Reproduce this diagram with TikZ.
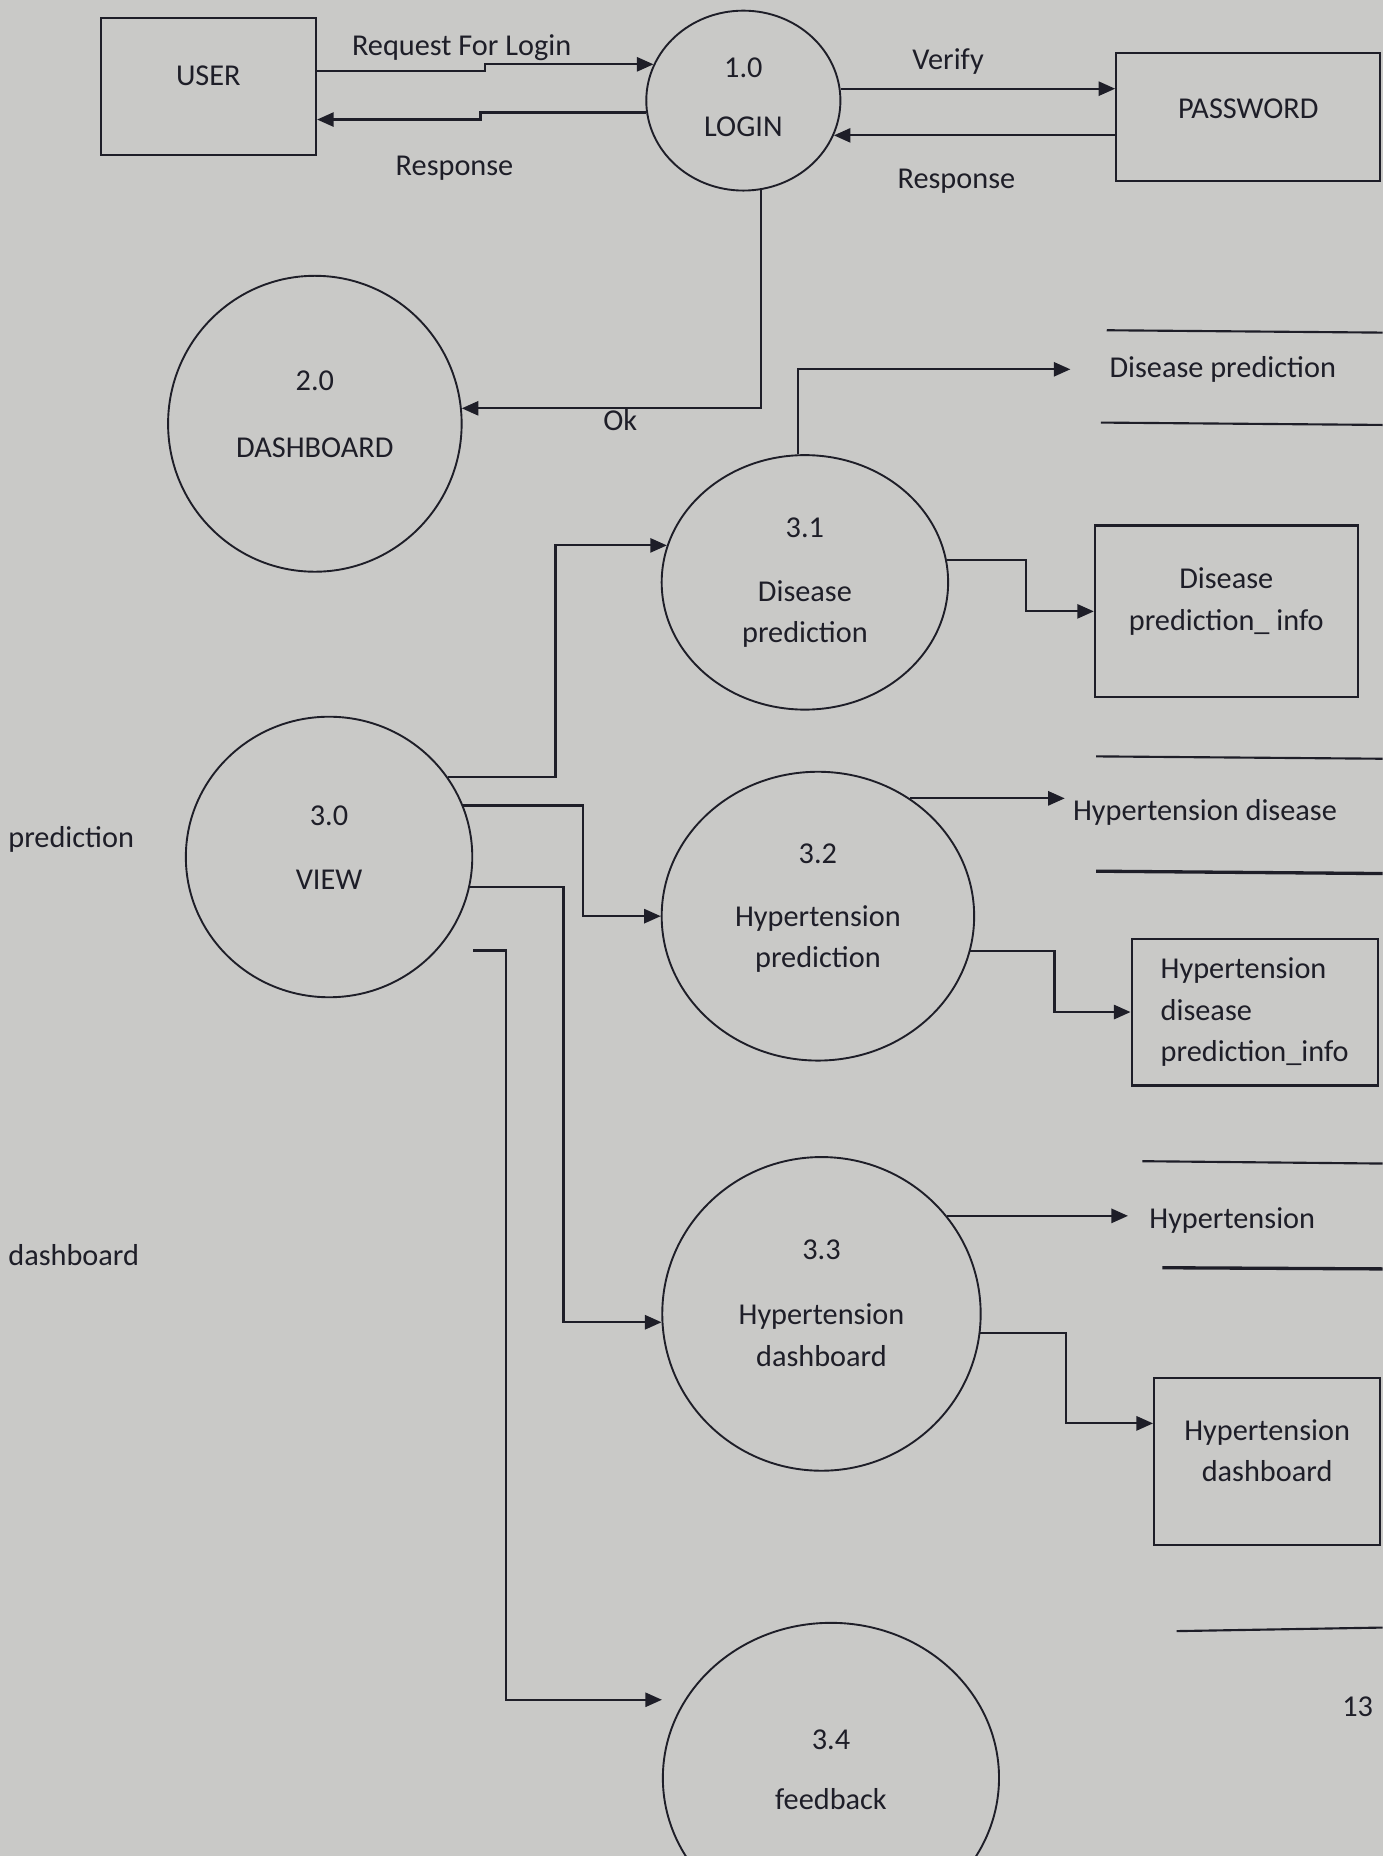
\documentclass[tikz,border=0pt]{standalone}
\usepackage{fontspec}
\setmainfont{Carlito}
\usepackage{tikz}
\usetikzlibrary{arrows.meta,shapes.geometric}

\definecolor{paper}{RGB}{201,201,199}
\definecolor{ink}{RGB}{30,30,40}

% invisible depth below the last line, lifts the text in its shape
\newcommand{\dropby}[1]{\rule[-#1]{0pt}{#1}}

\tikzset{
  every node/.style={font=\fontsize{12.8}{17.5}\selectfont, text=ink},
  process/.style={draw=ink, ellipse, inner sep=0pt, align=center, line width=0.8pt},
  store/.style={draw=ink, rectangle, inner sep=0pt, align=center, line width=0.9pt},
  flow/.style={draw=ink, line width=0.9pt, -{Triangle[length=7pt,width=6pt]}},
  storeline/.style={draw=ink, line width=0.9pt},
}

\begin{document}
\begin{tikzpicture}[x=0.5pt, y=-0.5pt]

   \fill[paper] (0,0) rectangle (1168,1568);
   \useasboundingbox (0,0) rectangle (1168,1568);

   % entities and stores
   \node[store, minimum width=91pt, minimum height=58pt] (user) at (176,73) {USER\dropby{9pt}};
   \node[store, minimum width=111.5pt, minimum height=54pt] (pwd) at (1054.5,99) {PASSWORD\dropby{7pt}};
   \node[store, minimum width=111pt, minimum height=72.5pt] (dpinfo) at (1036,516.5) {Disease\\prediction\_ info\dropby{10.5pt}};
   \node[store, align=left, minimum width=104pt, minimum height=62pt] (hdinfo) at (1060,855) {Hypertension\\disease\\prediction\_info};
   \node[store, minimum width=95.5pt, minimum height=70.5pt] (hdash) at (1070.5,1234.5) {Hypertension\\dashboard\dropby{9pt}};

   % processes
   \node[process, minimum width=82pt, minimum height=76pt] (login) at (628,85) {1.0\\[7.5pt]LOGIN\dropby{3pt}};
   \node[process, minimum width=124pt, minimum height=125pt] (dash) at (266,358) {2.0\\[10.5pt]DASHBOARD\dropby{8pt}};
   \node[process, minimum width=121pt, minimum height=118.5pt] (view) at (278,724) {3.0\\[9.5pt]VIEW\dropby{8pt}};
   \node[process, minimum width=121pt, minimum height=107.5pt] (d31) at (680,492) {3.1\\[9.5pt]Disease\\prediction};
   \node[process, minimum width=132pt, minimum height=122pt] (d32) at (691,774) {3.2\\[9pt]Hypertension\\prediction\dropby{9pt}};
   \node[process, minimum width=134.5pt, minimum height=132.5pt] (d33) at (694,1110) {3.3\\[10pt]Hypertension\\dashboard\dropby{9pt}};
   \node[process, minimum width=142pt, minimum height=131pt] (d34) at (702,1502) {3.4\\[7.5pt]feedback\dropby{7pt}};

   % open stores
   \node (dpstore) at (1033,312) {Disease prediction};
   \draw[storeline] (935,279) -- (1168,281);
   \draw[storeline] (930,357) -- (1168,359);

   \node (hdstore) at (1018,686) {Hypertension disease};
   \draw[storeline] (926,639) -- (1168,641);
   \draw[storeline, line width=1.4pt] (926,736) -- (1168,738);

   \node (hstore) at (1041,1031) {Hypertension};
   \draw[storeline] (965,981) -- (1168,983);
   \draw[storeline, line width=1.4pt] (982,1071) -- (1168,1072);

   \draw[storeline] (994,1378) -- (1168,1375);

   % flow labels
   \node (reqlbl) at (390,40) {Request For Login};
   \node (resp1) at (384,142) {Response};
   \node (verlbl) at (801,52) {Verify};
   \node (resp2) at (808,153) {Response};

   % flows
   \draw[flow] ([yshift=6.5pt]user.east) -- ++(142,0) |- (login.158);
   \draw[flow] (login.187) -- ++(-140,0) |- ([yshift=-14pt]user.east);
   \draw[flow] (login.7) -- (login.7 -| pwd.west);
   \draw[flow] (login.-21 -| pwd.west) -- (login.-21);
   \draw[flow] (login.-79) |- node[pos=.735, yshift=-5pt] (ok) {Ok} (dash.6);

   \draw[flow] (d31.93) |- ([xshift=-13pt]dpstore.west);
   \draw[flow] (d31.9) -- ++(67,0) |- (dpinfo.west);

   \draw[flow] (view.34) -- ++(91,0) |- (d31.165);
   \draw[flow] (view.21) -- ++(101,0) |- (d32.west);
   \draw[flow] (view.-12) -- ++(79,0) |- (d33.183);
   \draw[flow] ([yshift=-39.5pt]view.east) -- ++(28,0) |- ([yshift=33pt]d34.west);

   \draw[flow] (d32.52) -- (d32.52 -| hdstore.west);
   \draw[flow] (d32.-13) -- ++(71,0) |- (hdinfo.west);

   \draw[flow] (d33.38) -- ([xshift=-5.5pt]d33.38 -| hstore.west);
   \draw[flow] (d33.-7) -- ++(72,0) |- ([yshift=16pt]hdash.west);

   % page fragments
   \node[anchor=west] (frag1) at (0,709) {prediction};
   \node[anchor=west] (frag2) at (0,1060) {dashboard};
   \node (pageno) at (1147,1442) {13};

\end{tikzpicture}
\end{document}
